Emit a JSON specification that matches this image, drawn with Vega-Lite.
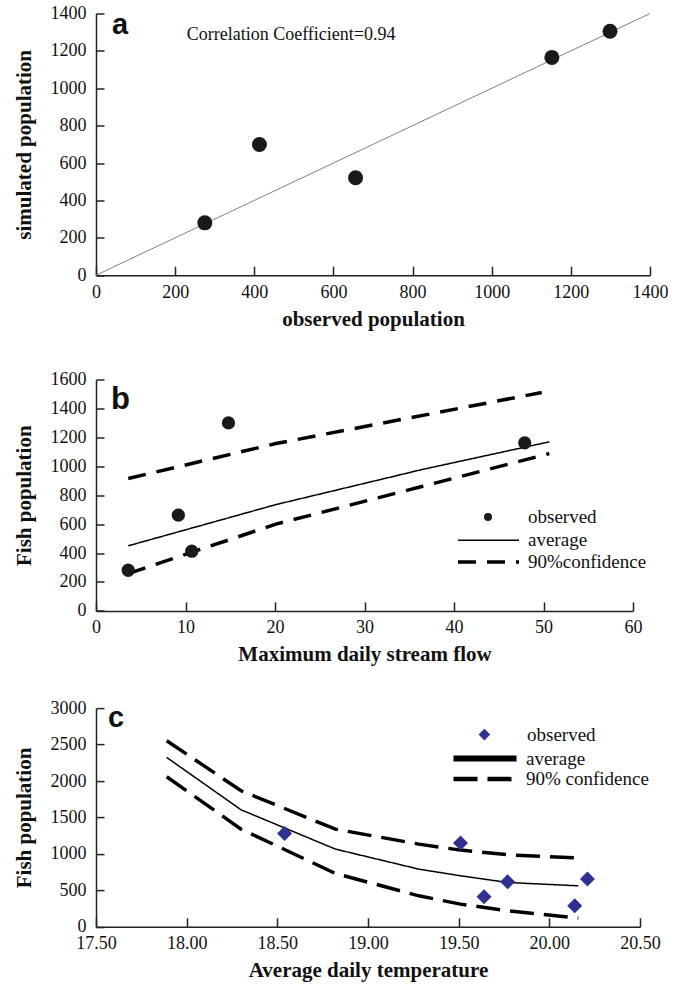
{
  "$schema": "https://vega.github.io/schema/vega-lite/v6.json",
  "background": "white",
  "padding": {"left": 13, "top": 4.5, "right": 0, "bottom": 0},
  "datasets": {
    "a_pts": [
      {"observed": 275, "simulated": 280},
      {"observed": 413, "simulated": 699},
      {"observed": 656, "simulated": 521},
      {"observed": 1152, "simulated": 1165},
      {"observed": 1299, "simulated": 1305}
    ],
    "a_line": [
      {"observed": 0, "simulated": 0},
      {"observed": 1400, "simulated": 1400}
    ],
    "b_pts": [
      {"flow": 3.6, "pop": 281, "kind": "observed"},
      {"flow": 9.2, "pop": 662, "kind": "observed"},
      {"flow": 10.7, "pop": 413, "kind": "observed"},
      {"flow": 14.8, "pop": 1300, "kind": "observed"},
      {"flow": 47.9, "pop": 1162, "kind": "observed"}
    ],
    "b_lines": [
      {"flow": 3.6, "pop": 450, "series": "average", "bound": "mean"},
      {"flow": 20.1, "pop": 735, "series": "average", "bound": "mean"},
      {"flow": 36.4, "pop": 977, "series": "average", "bound": "mean"},
      {"flow": 50.65, "pop": 1169, "series": "average", "bound": "mean"},
      {"flow": 3.6, "pop": 915, "series": "90%confidence", "bound": "upper"},
      {"flow": 20.1, "pop": 1157, "series": "90%confidence", "bound": "upper"},
      {"flow": 49.8, "pop": 1510, "series": "90%confidence", "bound": "upper"},
      {"flow": 3.6, "pop": 258, "series": "90%confidence", "bound": "lower"},
      {"flow": 20.1, "pop": 600, "series": "90%confidence", "bound": "lower"},
      {"flow": 36.4, "pop": 860, "series": "90%confidence", "bound": "lower"},
      {"flow": 50.65, "pop": 1088, "series": "90%confidence", "bound": "lower"}
    ],
    "c_pts": [
      {"temp": 18.54, "pop": 1280, "kind": "observed"},
      {"temp": 19.51, "pop": 1148, "kind": "observed"},
      {"temp": 19.64, "pop": 412, "kind": "observed"},
      {"temp": 19.77, "pop": 617, "kind": "observed"},
      {"temp": 20.14, "pop": 288, "kind": "observed"},
      {"temp": 20.21, "pop": 654, "kind": "observed"}
    ],
    "c_lines": [
      {"temp": 17.89, "pop": 2323, "series": "average", "bound": "mean"},
      {"temp": 18.30, "pop": 1605, "series": "average", "bound": "mean"},
      {"temp": 18.82, "pop": 1066, "series": "average", "bound": "mean"},
      {"temp": 19.28, "pop": 791, "series": "average", "bound": "mean"},
      {"temp": 19.51, "pop": 700, "series": "average", "bound": "mean"},
      {"temp": 19.77, "pop": 608, "series": "average", "bound": "mean"},
      {"temp": 20.16, "pop": 562, "series": "average", "bound": "mean"},
      {"temp": 17.89, "pop": 2552, "series": "90% confidence", "bound": "upper"},
      {"temp": 18.30, "pop": 1866, "series": "90% confidence", "bound": "upper"},
      {"temp": 18.82, "pop": 1340, "series": "90% confidence", "bound": "upper"},
      {"temp": 19.28, "pop": 1134, "series": "90% confidence", "bound": "upper"},
      {"temp": 19.51, "pop": 1052, "series": "90% confidence", "bound": "upper"},
      {"temp": 19.77, "pop": 988, "series": "90% confidence", "bound": "upper"},
      {"temp": 20.14, "pop": 945, "series": "90% confidence", "bound": "upper"},
      {"temp": 20.145, "pop": 855, "series": "90% confidence", "bound": "upper"},
      {"temp": 17.89, "pop": 2058, "series": "90% confidence", "bound": "lower"},
      {"temp": 18.30, "pop": 1340, "series": "90% confidence", "bound": "lower"},
      {"temp": 18.82, "pop": 732, "series": "90% confidence", "bound": "lower"},
      {"temp": 19.28, "pop": 425, "series": "90% confidence", "bound": "lower"},
      {"temp": 19.51, "pop": 311, "series": "90% confidence", "bound": "lower"},
      {"temp": 19.77, "pop": 220, "series": "90% confidence", "bound": "lower"},
      {"temp": 20.16, "pop": 119, "series": "90% confidence", "bound": "lower"}
    ]
  },
  "config": {
    "view": {"stroke": null},
    "font": "Liberation Serif, Times New Roman, serif",
    "axis": {
      "grid": false,
      "domainColor": "#222222",
      "domainWidth": 1.5,
      "tickColor": "#222222",
      "tickWidth": 1.5,
      "labelFont": "Liberation Serif, Times New Roman, serif",
      "labelFontSize": 18,
      "labelColor": "#111111",
      "titleFont": "Liberation Serif, Times New Roman, serif",
      "titleFontSize": 21,
      "titleFontWeight": "bold",
      "titleColor": "#111111",
      "labelFlush": false,
      "labelOverlap": false,
      "format": "d"
    },
    "axisX": {"tickSize": -9, "labelPadding": 17, "titleY": 50, "titleBaseline": "alphabetic"},
    "axisY": {"tickSize": -8, "labelPadding": 18, "titleX": -65.5, "titleBaseline": "alphabetic"},
    "legend": {"labelFont": "Liberation Serif, Times New Roman, serif", "labelFontSize": 19, "labelColor": "#111111", "padding": 0}
  },
  "spacing": 41,
  "bounds": "full",
  "resolve": {"scale": {"shape": "independent", "strokeDash": "independent"}, "legend": {"shape": "independent", "strokeDash": "independent"}},
  "vconcat": [
    {
      "width": 554,
      "height": 261.7,
      "layer": [
        {
          "data": {"name": "a_line"},
          "mark": {"type": "line", "color": "#808080", "strokeWidth": 1},
          "encoding": {
            "x": {"field": "observed", "type": "quantitative", "scale": {"domain": [0, 1400], "nice": false}, "axis": {"values": [0, 200, 400, 600, 800, 1000, 1200, 1400], "title": "observed population"}},
            "y": {"field": "simulated", "type": "quantitative", "scale": {"domain": [0, 1400], "nice": false}, "axis": {"values": [0, 200, 400, 600, 800, 1000, 1200, 1400], "title": "simulated population"}}
          }
        },
        {
          "data": {"name": "a_pts"},
          "mark": {"type": "point", "filled": true, "size": 225, "color": "#1a1a1a", "opacity": 1},
          "encoding": {
            "x": {"field": "observed", "type": "quantitative", "scale": {"domain": [0, 1400], "nice": false}, "axis": {"values": [0, 200, 400, 600, 800, 1000, 1200, 1400], "title": "observed population"}},
            "y": {"field": "simulated", "type": "quantitative", "scale": {"domain": [0, 1400], "nice": false}, "axis": {"values": [0, 200, 400, 600, 800, 1000, 1200, 1400], "title": "simulated population"}}
          }
        },
        {
          "data": {"values": [{"note": "Correlation Coefficient=0.94"}]},
          "mark": {"type": "text", "font": "Liberation Serif, Times New Roman, serif", "fontSize": 18, "color": "#111111", "align": "center", "baseline": "middle"},
          "encoding": {
            "x": {"datum": 493, "type": "quantitative", "scale": {"domain": [0, 1400], "nice": false}, "axis": {"values": [0, 200, 400, 600, 800, 1000, 1200, 1400], "title": "observed population"}},
            "y": {"datum": 1284, "type": "quantitative", "scale": {"domain": [0, 1400], "nice": false}, "axis": {"values": [0, 200, 400, 600, 800, 1000, 1200, 1400], "title": "simulated population"}},
            "text": {"field": "note"}
          }
        },
        {
          "data": {"values": [{"panel": "a"}]},
          "mark": {"type": "text", "font": "Liberation Sans, Arial, sans-serif", "fontSize": 29, "fontWeight": "bold", "color": "#111111", "align": "left", "baseline": "alphabetic"},
          "encoding": {
            "x": {"datum": 40.4, "type": "quantitative", "scale": {"domain": [0, 1400], "nice": false}, "axis": {"values": [0, 200, 400, 600, 800, 1000, 1200, 1400], "title": "observed population"}},
            "y": {"datum": 1293, "type": "quantitative", "scale": {"domain": [0, 1400], "nice": false}, "axis": {"values": [0, 200, 400, 600, 800, 1000, 1200, 1400], "title": "simulated population"}},
            "text": {"field": "panel"}
          }
        }
      ]
    },
    {
      "spacing": 96.6,
      "bounds": "flush",
      "resolve": {"scale": {"shape": "independent", "strokeDash": "independent"}, "legend": {"shape": "independent", "strokeDash": "independent"}},
      "vconcat": [
        {
          "width": 537,
          "height": 231.4,
          "layer": [
            {
              "data": {"name": "b_lines"},
              "transform": [{"filter": "datum.series === 'average'"}],
              "mark": {"type": "line", "color": "black", "strokeWidth": 1.5},
              "encoding": {
                "x": {"field": "flow", "type": "quantitative", "scale": {"domain": [0, 60], "nice": false}, "axis": {"values": [0, 10, 20, 30, 40, 50, 60], "title": "Maximum daily stream flow"}},
                "y": {"field": "pop", "type": "quantitative", "scale": {"domain": [0, 1600], "nice": false}, "axis": {"values": [0, 200, 400, 600, 800, 1000, 1200, 1400, 1600], "title": "Fish population"}},
                "detail": {"field": "bound"},
                "strokeDash": {"field": "series", "type": "nominal", "scale": {"domain": ["average", "90%confidence"], "range": [[1, 0], [18, 11]]},
                  "legend": {"title": null, "orient": "none", "legendX": 360, "legendY": 152.7, "padding": 0, "symbolType": "stroke", "symbolSize": 3721, "symbolStrokeWidth": 3.5, "symbolStrokeColor": "black", "labelOffset": 7, "clipHeight": 16, "rowPadding": 2.7,
                    "encode": {"symbols": {"update": {"strokeWidth": {"signal": "(datum.value === 'average' ? 1.5 : 3.5)"}, "strokeDash": {"signal": "(datum.value === 'average' ? [1, 0] : [27, 7])"}}}}}}
              }
            },
            {
              "data": {"name": "b_lines"},
              "transform": [{"filter": "datum.series !== 'average'"}],
              "mark": {"type": "line", "color": "black", "strokeWidth": 3.5},
              "encoding": {
                "x": {"field": "flow", "type": "quantitative", "scale": {"domain": [0, 60], "nice": false}, "axis": {"values": [0, 10, 20, 30, 40, 50, 60], "title": "Maximum daily stream flow"}},
                "y": {"field": "pop", "type": "quantitative", "scale": {"domain": [0, 1600], "nice": false}, "axis": {"values": [0, 200, 400, 600, 800, 1000, 1200, 1400, 1600], "title": "Fish population"}},
                "detail": {"field": "bound"},
                "strokeDash": {"field": "series", "type": "nominal", "scale": {"domain": ["average", "90%confidence"], "range": [[1, 0], [18, 11]]},
                  "legend": {"title": null, "orient": "none", "legendX": 360, "legendY": 152.7, "padding": 0, "symbolType": "stroke", "symbolSize": 3721, "symbolStrokeWidth": 3.5, "symbolStrokeColor": "black", "labelOffset": 7, "clipHeight": 16, "rowPadding": 2.7,
                    "encode": {"symbols": {"update": {"strokeWidth": {"signal": "(datum.value === 'average' ? 1.5 : 3.5)"}, "strokeDash": {"signal": "(datum.value === 'average' ? [1, 0] : [27, 7])"}}}}}}
              }
            },
            {
              "data": {"name": "b_pts"},
              "mark": {"type": "point", "filled": true, "size": 177, "color": "#1a1a1a", "opacity": 1},
              "encoding": {
                "x": {"field": "flow", "type": "quantitative", "scale": {"domain": [0, 60], "nice": false}, "axis": {"values": [0, 10, 20, 30, 40, 50, 60], "title": "Maximum daily stream flow"}},
                "y": {"field": "pop", "type": "quantitative", "scale": {"domain": [0, 1600], "nice": false}, "axis": {"values": [0, 200, 400, 600, 800, 1000, 1200, 1400, 1600], "title": "Fish population"}},
                "shape": {"field": "kind", "type": "nominal", "scale": {"domain": ["observed"], "range": ["circle"]},
                  "legend": {"title": null, "orient": "none", "legendX": 382.5, "legendY": 129.4, "padding": 0, "symbolType": "circle", "symbolSize": 64, "symbolFillColor": "#1a1a1a", "symbolStrokeWidth": 0, "symbolOpacity": 1, "labelOffset": 30.5, "clipHeight": 16}}
              }
            },
            {
              "data": {"values": [{"panel": "b"}]},
              "mark": {"type": "text", "font": "Liberation Sans, Arial, sans-serif", "fontSize": 31, "fontWeight": "bold", "color": "#111111", "align": "left", "baseline": "alphabetic"},
              "encoding": {
                "x": {"datum": 1.68, "type": "quantitative", "scale": {"domain": [0, 60], "nice": false}, "axis": {"values": [0, 10, 20, 30, 40, 50, 60], "title": "Maximum daily stream flow"}},
                "y": {"datum": 1399, "type": "quantitative", "scale": {"domain": [0, 1600], "nice": false}, "axis": {"values": [0, 200, 400, 600, 800, 1000, 1200, 1400, 1600], "title": "Fish population"}},
                "text": {"field": "panel"}
              }
            }
          ]
        },
        {
          "width": 544,
          "height": 218.7,
          "layer": [
            {
              "data": {"name": "c_lines"},
              "transform": [{"filter": "datum.series === 'average'"}],
              "mark": {"type": "line", "color": "black", "strokeWidth": 1.5},
              "encoding": {
                "x": {"field": "temp", "type": "quantitative", "scale": {"domain": [17.5, 20.5], "nice": false, "zero": false}, "axis": {"values": [17.5, 18, 18.5, 19, 19.5, 20, 20.5], "format": ".2f", "title": "Average daily temperature"}},
                "y": {"field": "pop", "type": "quantitative", "scale": {"domain": [0, 3000], "nice": false}, "axis": {"values": [0, 500, 1000, 1500, 2000, 2500, 3000], "title": "Fish population"}},
                "detail": {"field": "bound"},
                "strokeDash": {"field": "series", "type": "nominal", "scale": {"domain": ["average", "90% confidence"], "range": [[1, 0], [24, 10]]},
                  "legend": {"title": null, "orient": "none", "legendX": 355, "legendY": 42.4, "padding": 0, "symbolType": "stroke", "symbolSize": 3969, "symbolStrokeWidth": 4.5, "symbolStrokeColor": "black", "labelOffset": 7, "clipHeight": 16, "rowPadding": 1.6,
                    "encode": {"symbols": {"update": {"strokeWidth": {"signal": "(datum.value === 'average' ? 6 : 4.5)"}, "strokeDash": {"signal": "(datum.value === 'average' ? [1, 0] : [24, 9])"}}}}}}
              }
            },
            {
              "data": {"name": "c_lines"},
              "transform": [{"filter": "datum.series !== 'average'"}],
              "mark": {"type": "line", "color": "black", "strokeWidth": 3.5},
              "encoding": {
                "x": {"field": "temp", "type": "quantitative", "scale": {"domain": [17.5, 20.5], "nice": false, "zero": false}, "axis": {"values": [17.5, 18, 18.5, 19, 19.5, 20, 20.5], "format": ".2f", "title": "Average daily temperature"}},
                "y": {"field": "pop", "type": "quantitative", "scale": {"domain": [0, 3000], "nice": false}, "axis": {"values": [0, 500, 1000, 1500, 2000, 2500, 3000], "title": "Fish population"}},
                "detail": {"field": "bound"},
                "strokeDash": {"field": "series", "type": "nominal", "scale": {"domain": ["average", "90% confidence"], "range": [[1, 0], [24, 10]]},
                  "legend": {"title": null, "orient": "none", "legendX": 355, "legendY": 42.4, "padding": 0, "symbolType": "stroke", "symbolSize": 3969, "symbolStrokeWidth": 4.5, "symbolStrokeColor": "black", "labelOffset": 7, "clipHeight": 16, "rowPadding": 1.6,
                    "encode": {"symbols": {"update": {"strokeWidth": {"signal": "(datum.value === 'average' ? 6 : 4.5)"}, "strokeDash": {"signal": "(datum.value === 'average' ? [1, 0] : [24, 9])"}}}}}}
              }
            },
            {
              "data": {"name": "c_pts"},
              "mark": {"type": "point", "filled": true, "size": 225, "color": "#2e3192", "opacity": 1},
              "encoding": {
                "x": {"field": "temp", "type": "quantitative", "scale": {"domain": [17.5, 20.5], "nice": false, "zero": false}, "axis": {"values": [17.5, 18, 18.5, 19, 19.5, 20, 20.5], "format": ".2f", "title": "Average daily temperature"}},
                "y": {"field": "pop", "type": "quantitative", "scale": {"domain": [0, 3000], "nice": false}, "axis": {"values": [0, 500, 1000, 1500, 2000, 2500, 3000], "title": "Fish population"}},
                "shape": {"field": "kind", "type": "nominal", "scale": {"domain": ["observed"], "range": ["diamond"]},
                  "legend": {"title": null, "orient": "none", "legendX": 378.9, "legendY": 18.5, "padding": 0, "symbolType": "diamond", "symbolSize": 137, "symbolFillColor": "#2e3192", "symbolStrokeWidth": 0, "symbolOpacity": 1, "labelOffset": 33.1, "clipHeight": 16}}
              }
            },
            {
              "data": {"values": [{"panel": "c"}]},
              "mark": {"type": "text", "font": "Liberation Sans, Arial, sans-serif", "fontSize": 29, "fontWeight": "bold", "color": "#111111", "align": "left", "baseline": "alphabetic"},
              "encoding": {
                "x": {"datum": 17.566, "type": "quantitative", "scale": {"domain": [17.5, 20.5], "nice": false, "zero": false}, "axis": {"values": [17.5, 18, 18.5, 19, 19.5, 20, 20.5], "format": ".2f", "title": "Average daily temperature"}},
                "y": {"datum": 2734, "type": "quantitative", "scale": {"domain": [0, 3000], "nice": false}, "axis": {"values": [0, 500, 1000, 1500, 2000, 2500, 3000], "title": "Fish population"}},
                "text": {"field": "panel"}
              }
            }
          ]
        }
      ]
    }
  ]
}
